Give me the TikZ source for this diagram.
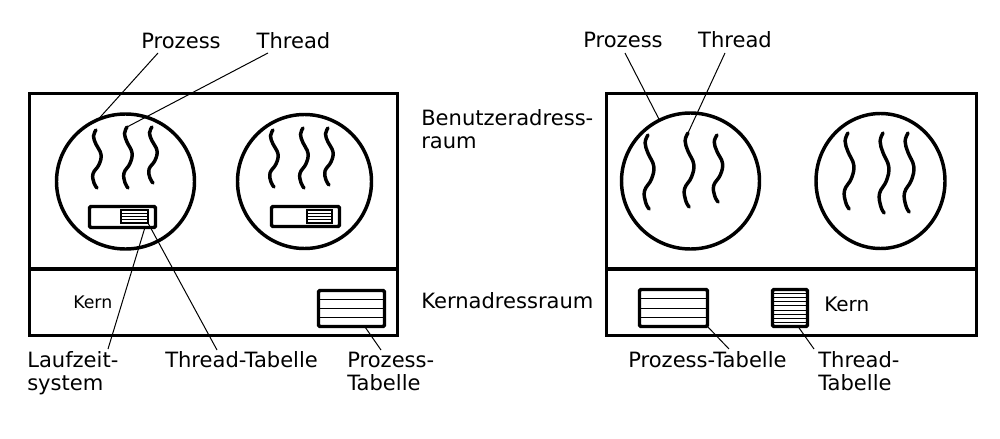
\documentclass[tikz,border=0pt]{standalone}
\usepackage{fontspec}
\setmainfont{DejaVu Sans}
\usetikzlibrary{shapes.geometric,calc}
\begin{document}
\begin{tikzpicture}[x=0.75pt,y=-0.75pt,
  frame/.style={draw, rectangle, line width=2.6pt, inner sep=0pt, outer sep=0pt},
  proc/.style={draw, ellipse, line width=2.6pt, inner sep=0pt, outer sep=0pt},
  lzbox/.style={draw, rectangle, line width=2.6pt, rounded corners=1pt, inner sep=0pt, outer sep=0pt},
  tbl/.style={draw, rectangle, line width=2.6pt, rounded corners=1pt, inner sep=0pt, outer sep=0pt},
  itbl/.style={draw, rectangle, line width=1.2pt, inner sep=0pt, outer sep=0pt},
  rowline/.style={line width=0.75pt},
  irow/.style={line width=0.6pt},
  thick line/.style={line width=2.6pt},
  leader/.style={line width=0.75pt},
  lbl/.style={inner sep=0pt, font=\fontsize{15.8pt}{17.25pt}\selectfont},
  thr/.pic={\coordinate (-top) at (0,0);
    \draw[line width=2.6pt, line cap=round] plot[smooth, tension=0.7] coordinates {(0,0) (-2.5,6) (0,14) (5,24) (3,34) (-3,43) (-2,52) (1,57)};}
]
\useasboundingbox (0,0) rectangle (1000,439);
\coordinate (dl) at (0,269);

% ---------- left: user-level threads ----------
\node[frame, minimum width=276pt, minimum height=181.5pt] (frL) at (213.5,214.5) {};
\draw[thick line] (frL.west |- dl) -- (frL.east |- dl);

\node[proc, minimum width=103.5pt, minimum height=101.25pt] (pL1) at (125.5,181.5) {};
\node[proc, minimum width=100.5pt, minimum height=100.5pt] (pL2) at (304.5,181.5) {};

\pic[yscale=58/57] (lt1) at (96,130) {thr};
\pic[yscale=61/57] (lt2) at (127,127) {thr};
\pic[yscale=56/57] (lt3) at (152,127) {thr};
\pic[yscale=57/57] (lu1) at (273,130) {thr};
\pic[yscale=60/57] (lu2) at (303,128) {thr};
\pic[yscale=57/57] (lu3) at (328,128) {thr};

\node[lzbox, minimum width=49.5pt, minimum height=15.75pt] (lz1) at (122.5,217) {};
\node[itbl, minimum width=20.25pt, minimum height=9.75pt] (itt1) at (134.5,216.5) {};
\foreach \i in {1,2,3}
  \draw[irow] ($(itt1.north west)!\i/4!(itt1.south west)$) -- ($(itt1.north east)!\i/4!(itt1.south east)$);
\node[lzbox, minimum width=51pt, minimum height=15pt] (lz2) at (305.5,216.5) {};
\node[itbl, minimum width=18.75pt, minimum height=9.75pt] (itt2) at (319.5,216.5) {};
\foreach \i in {1,2,3}
  \draw[irow] ($(itt2.north west)!\i/4!(itt2.south west)$) -- ($(itt2.north east)!\i/4!(itt2.south east)$);

\node[tbl, minimum width=49.5pt, minimum height=27pt] (ptL) at (351.5,308.5) {};
\foreach \i in {1,2,3}
  \draw[rowline] ($(ptL.north west)!\i/4!(ptL.south west)$) -- ($(ptL.north east)!\i/4!(ptL.south east)$);

\node[inner sep=0pt, anchor=base west, font=\fontsize{13pt}{15pt}\selectfont] (kernL) at (73,308) {Kern};

% ---------- right: kernel-level threads ----------
\node[frame, minimum width=277.5pt, minimum height=181.5pt] (frR) at (791.5,214.5) {};
\draw[thick line] (frR.west |- dl) -- (frR.east |- dl);

\node[proc, minimum width=103.5pt, minimum height=102pt] (pR1) at (690.5,181) {};
\node[proc, minimum width=96.75pt, minimum height=101.25pt] (pR2) at (880.5,181) {};

\pic[yscale=74/57, xscale=1.15] (rt1) at (648,135) {thr};
\pic[yscale=74/57, xscale=1.15] (rt2) at (688,133) {thr};
\pic[yscale=67/57, xscale=1.1] (rt3) at (717,135) {thr};
\pic[yscale=76/57, xscale=1.15] (ru1) at (848,133) {thr};
\pic[yscale=80/57, xscale=1.15] (ru2) at (883,133) {thr};
\pic[yscale=79/57, xscale=1.15] (ru3) at (908,133) {thr};

\node[tbl, minimum width=51pt, minimum height=27.75pt] (ptR) at (673.5,308) {};
\foreach \i in {1,2,3}
  \draw[rowline] ($(ptR.north west)!\i/4!(ptR.south west)$) -- ($(ptR.north east)!\i/4!(ptR.south east)$);
\node[tbl, minimum width=26.25pt, minimum height=27.75pt] (ttR) at (790,308) {};
\foreach \i in {1,...,8}
  \draw[rowline] ($(ttR.north west)!\i/9!(ttR.south west)$) -- ($(ttR.north east)!\i/9!(ttR.south east)$);

\node[inner sep=0pt, anchor=base west, font=\fontsize{15pt}{17pt}\selectfont] (kernR) at (824,311) {Kern};

% ---------- labels ----------
\node[lbl, anchor=base] (lprz) at (181,48) {Prozess};
\node[lbl, anchor=base] (lthr) at (293.5,48) {Thread};
\node[lbl, anchor=base] (rprz) at (623,47) {Prozess};
\node[lbl, anchor=base] (rthr) at (735,47) {Thread};
\node[lbl, anchor=base west, align=left] (bar) at (421,148) {Benutzeradress-\\raum};
\node[lbl, anchor=base west] (kar) at (421,308) {Kernadressraum};
\node[lbl, anchor=base west, align=left] (lzs) at (27,390) {Laufzeit-\\system};
\node[lbl, anchor=base west] (lttl) at (165,367) {Thread-Tabelle};
\node[lbl, anchor=base west, align=left] (lptl) at (347,390) {Prozess-\\Tabelle};
\node[lbl, anchor=base west] (rptl) at (628,367) {Prozess-Tabelle};
\node[lbl, anchor=base west, align=left] (rttl) at (818,390) {Thread-\\Tabelle};

% ---------- leader lines ----------
\coordinate (a1) at (158,53);
\coordinate (a2) at (268,53);
\coordinate (a3) at (625,53);
\coordinate (a4) at (725,53);
\coordinate (b1) at (108,349);
\coordinate (b2) at (217,350);
\coordinate (b3) at (381,350);
\coordinate (b4) at (729,349);
\coordinate (b5) at (814,349);

\draw[leader] (a1) -- (pL1.114);
\draw[leader] (a2) -- (lt2-top);
\draw[leader] (a3) -- (pR1.117);
\draw[leader] (a4) -- (rt2-top);
\draw[leader] (b1) -- ($(lz1.south west)!0.84!(lz1.south east)$);
\draw[leader] (b2) -- (itt1.south east);
\draw[leader] (b3) -- ($(ptL.south west)!0.7!(ptL.south east)$);
\draw[leader] (b4) -- (ptR.south east);
\draw[leader] (b5) -- ($(ttR.south west)!0.73!(ttR.south east)$);
\end{tikzpicture}
\end{document}
